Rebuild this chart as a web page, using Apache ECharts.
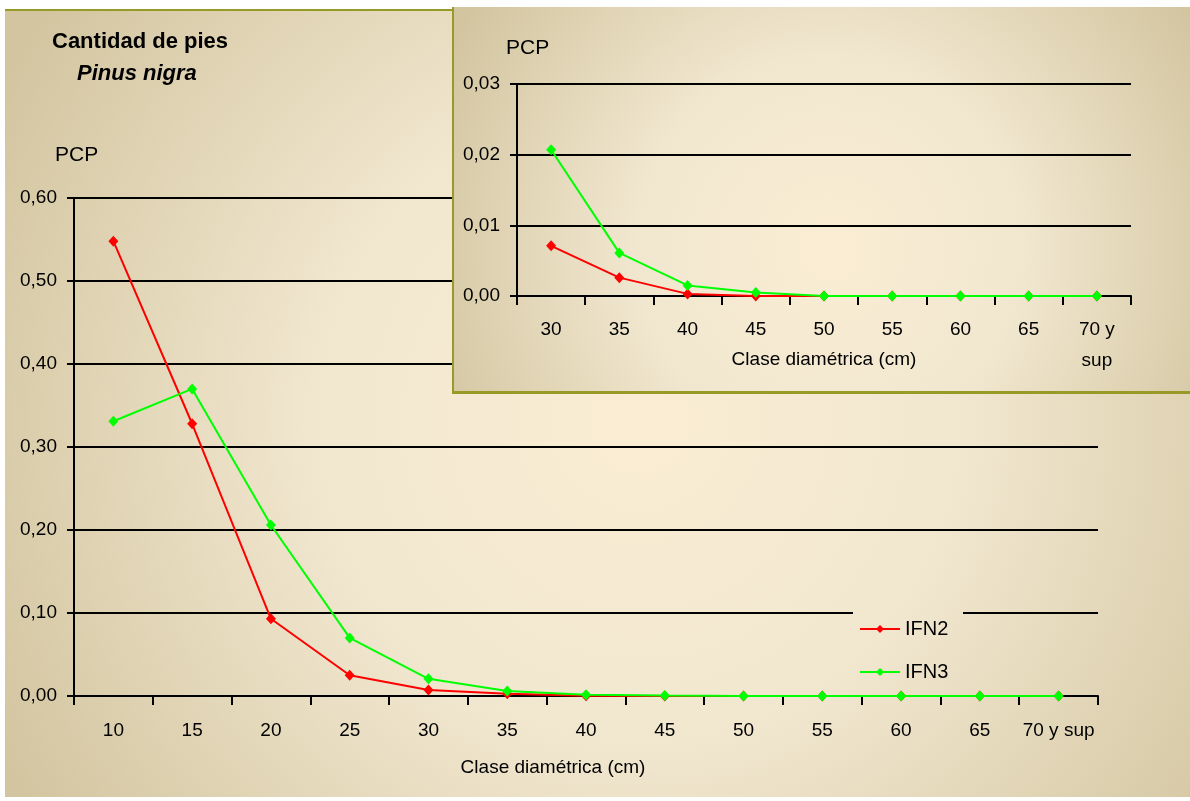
<!DOCTYPE html>
<html>
<head>
<meta charset="utf-8">
<script src="https://cdn.jsdelivr.net/npm/echarts@6/dist/echarts.min.js"></script>
<style>
html,body{margin:0;padding:0;background:#fff;}
#c{width:1190px;height:801px;}
</style>
</head>
<body>
<div id="c"></div>
<script>
// ---- data ----
var categories = ['10','15','20','25','30','35','40','45','50','55','60','65','70 y sup'];
var insetCategories = ['30','35','40','45','50','55','60','65','70 y\nsup'];
var ifn2 = [0.548, 0.328, 0.093, 0.025, 0.0071, 0.0026, 0.0003, 0, 0, 0, 0, 0, 0];
var ifn3 = [0.331, 0.370, 0.206, 0.070, 0.0207, 0.0061, 0.0015, 0.0005, 0, 0, 0, 0, 0];
var insetStart = 4; // inset begins at class '30'
var titleText = 'Cantidad de pies';
var subtitleText = 'Pinus nigra';
var yName = 'PCP';
var xName = 'Clase diamétrica (cm)';

var SANS = '"Liberation Sans", Arial, sans-serif';
var OLIVE = '#979a26';

function bgGrad(cx, cy, r){
  return {type:'radial', x:cx, y:cy, r:r, global:true, colorStops:[
    {offset:0, color:'#faedd4'},
    {offset:0.45, color:'#f1e7cf'},
    {offset:1, color:'#d3c5a0'}
  ]};
}
var mainGrad = bgGrad(640, 420, 720);
var insetGrad = bgGrad(830, 250, 430);
function fmt(v){ return v.toFixed(2).replace('.', ','); }

var chart = echarts.init(document.getElementById('c'), null, {renderer:'canvas'});

var axisLabelStyle = {color:'#000', fontFamily:SANS, fontSize:19};

var option = {
  animation:false,
  graphic:[
    {type:'rect', zlevel:0, z:-10, shape:{x:5,y:9,width:1185,height:788}, style:{fill:mainGrad}, silent:true},
    {type:'line', zlevel:0, z:-9, shape:{x1:5,y1:10,x2:453,y2:10}, style:{stroke:OLIVE,lineWidth:2}},
    // patch behind legend interrupting gridline
    {type:'rect', zlevel:0, z:1, shape:{x:853,y:602,width:110,height:50}, style:{fill:mainGrad}, silent:true},
    {type:'text', zlevel:0, z:5, x:52, y:42, style:{text:titleText, font:'bold 22px ' + SANS, fill:'#000', verticalAlign:'middle'}},
    {type:'text', zlevel:0, z:5, x:77, y:74, style:{text:subtitleText, font:'italic bold 22px ' + SANS, fill:'#000', verticalAlign:'middle'}},
    {type:'text', zlevel:0, z:5, x:55, y:155, style:{text:yName, font:'21px ' + SANS, fill:'#000', verticalAlign:'middle'}},
    {type:'text', zlevel:0, z:5, x:553, y:768, style:{text:xName, font:'19px ' + SANS, fill:'#000', align:'center', verticalAlign:'middle'}},
    // inset
    {type:'rect', zlevel:1, z:-10, shape:{x:452,y:7,width:738,height:387}, style:{fill:insetGrad}, silent:true},
    {type:'line', zlevel:1, z:-9, shape:{x1:453,y1:7,x2:453,y2:394}, style:{stroke:OLIVE,lineWidth:2}},
    {type:'line', zlevel:1, z:-9, shape:{x1:452,y1:392.5,x2:1190,y2:392.5}, style:{stroke:OLIVE,lineWidth:3}},
    {type:'text', zlevel:1, z:5, x:506, y:48, style:{text:yName, font:'21px ' + SANS, fill:'#000', verticalAlign:'middle'}},
    {type:'text', zlevel:1, z:5, x:824, y:360, style:{text:xName, font:'19px ' + SANS, fill:'#000', align:'center', verticalAlign:'middle'}}
  ],
  legend:{
    zlevel:0, z:6,
    orient:'vertical', left:859, top:618, padding:0,
    itemWidth:40, itemHeight:10, itemGap:21,
    textStyle:{color:'#000', fontFamily:SANS, fontSize:20, lineHeight:22},
    data:['IFN2','IFN3']
  },
  grid:[
    {left:74, right:92, top:198, bottom:105, containLabel:false, zlevel:0},
    {left:517, right:59, top:84, bottom:505, containLabel:false, zlevel:1}
  ],
  xAxis:[
    {type:'category', gridIndex:0, zlevel:0, data:categories, boundaryGap:true,
     axisLine:{lineStyle:{color:'#000', width:2}},
     axisTick:{show:true, interval:0, length:9, lineStyle:{color:'#000', width:2}},
     axisLabel:Object.assign({interval:0, margin:25, lineHeight:20}, axisLabelStyle),
     splitLine:{show:false}},
    {type:'category', gridIndex:1, zlevel:1, data:insetCategories, boundaryGap:true,
     axisLine:{lineStyle:{color:'#000', width:2}},
     axisTick:{show:true, interval:0, length:9, lineStyle:{color:'#000', width:2}},
     axisLabel:Object.assign({interval:0, margin:18, lineHeight:31}, axisLabelStyle),
     splitLine:{show:false}}
  ],
  yAxis:[
    {type:'value', gridIndex:0, zlevel:0, min:0, max:0.6, interval:0.1,
     axisLine:{show:true, lineStyle:{color:'#000', width:2}},
     axisTick:{show:true, length:7, lineStyle:{color:'#000', width:2}},
     axisLabel:Object.assign({margin:17, formatter:fmt}, axisLabelStyle),
     splitLine:{show:true, lineStyle:{color:'#000', width:2}}},
    {type:'value', gridIndex:1, zlevel:1, min:0, max:0.03, interval:0.01,
     axisLine:{show:true, lineStyle:{color:'#000', width:2}},
     axisTick:{show:true, length:7, lineStyle:{color:'#000', width:2}},
     axisLabel:Object.assign({margin:17, formatter:fmt}, axisLabelStyle),
     splitLine:{show:true, lineStyle:{color:'#000', width:2}}}
  ],
  series:[
    {name:'IFN2', type:'line', xAxisIndex:0, yAxisIndex:0, zlevel:0, z:3, data:ifn2,
     symbol:'diamond', symbolSize:[10,11], showSymbol:true,
     lineStyle:{color:'#ff0000', width:2}, itemStyle:{color:'#ff0000'}},
    {name:'IFN3', type:'line', xAxisIndex:0, yAxisIndex:0, zlevel:0, z:4, data:ifn3,
     symbol:'diamond', symbolSize:[10,11], showSymbol:true,
     lineStyle:{color:'#00ff00', width:2}, itemStyle:{color:'#00ff00'}},
    {name:'IFN2', type:'line', xAxisIndex:1, yAxisIndex:1, zlevel:1, z:3, data:ifn2.slice(insetStart),
     symbol:'diamond', symbolSize:[10,11], showSymbol:true,
     lineStyle:{color:'#ff0000', width:2}, itemStyle:{color:'#ff0000'}},
    {name:'IFN3', type:'line', xAxisIndex:1, yAxisIndex:1, zlevel:1, z:4, data:ifn3.slice(insetStart),
     symbol:'diamond', symbolSize:[10,11], showSymbol:true,
     lineStyle:{color:'#00ff00', width:2}, itemStyle:{color:'#00ff00'}}
  ]
};
chart.setOption(option);
</script>
</body>
</html>
